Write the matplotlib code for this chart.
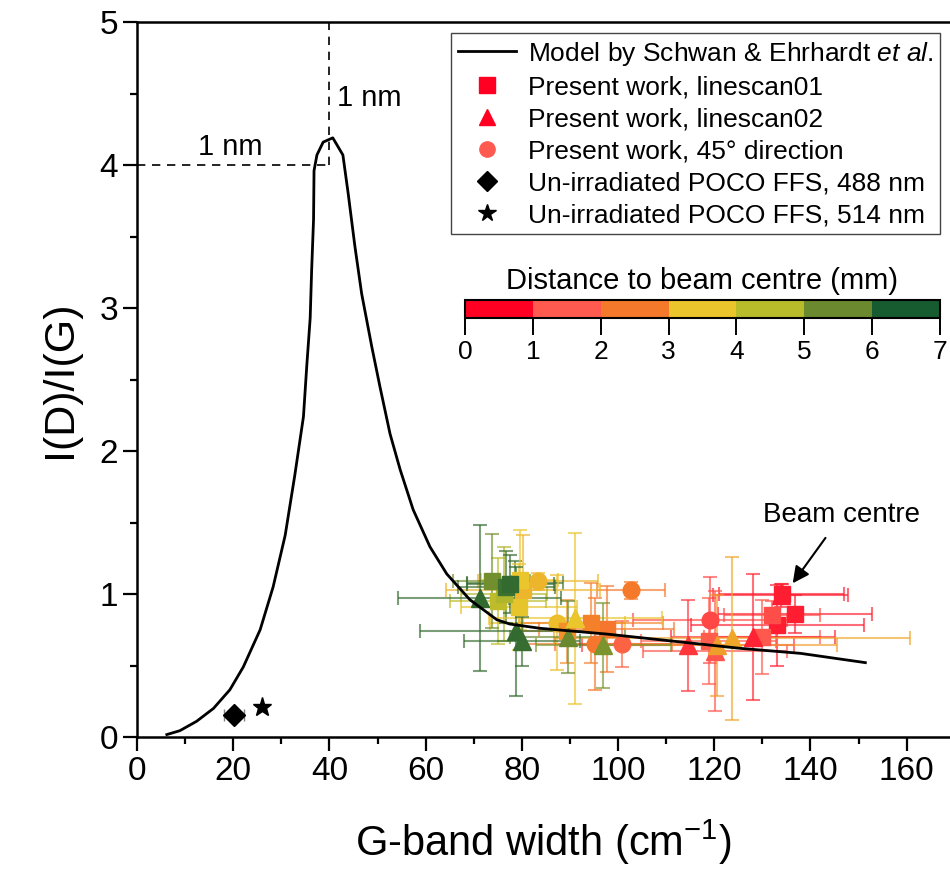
import matplotlib
matplotlib.use("Agg")
import matplotlib.pyplot as plt
import matplotlib.colors as mcolors
import matplotlib.colorbar as mcolorbar
from matplotlib.lines import Line2D
import numpy as np

plt.rcParams['font.family'] = 'Liberation Sans'
plt.rcParams['mathtext.fontset'] = 'custom'
plt.rcParams['mathtext.rm'] = 'Liberation Sans'
plt.rcParams['mathtext.it'] = 'Liberation Sans:italic'

# model curve (Schwan & Ehrhardt)
model_x = [6.2, 8.9, 12.4, 15.9, 19.3, 22.1, 25.6, 28.3, 30.8, 32.8, 34.6, 35.3, 36.0, 36.3,
           36.7, 36.8, 37.4, 38.7, 40.7, 42.8, 43.9, 45.3, 46.7, 48.8, 50.5, 52.6, 54.7, 57.4,
           60.9, 64.4, 69.2, 74.8, 77.5, 83.8, 97.6, 111.5, 125.4, 137.9, 151.4]
model_y = [0.017, 0.044, 0.11, 0.20, 0.33, 0.49, 0.75, 1.05, 1.41, 1.83, 2.24, 2.60, 2.93, 3.26,
           3.62, 3.96, 4.07, 4.16, 4.19, 4.07, 3.80, 3.43, 3.10, 2.73, 2.45, 2.12, 1.87, 1.59,
           1.33, 1.14, 0.96, 0.82, 0.79, 0.76, 0.72, 0.67, 0.62, 0.585, 0.52]

# linescan01 (squares)
sq_x = [134.0, 136.8, 133.1, 132.0, 129.9, 118.8, 97.6, 94.4, 89.3, 80.3, 79.4, 79.6, 75.1, 76.3, 73.7, 76.8, 77.6]
sq_y = [1.00, 0.86, 0.78, 0.85, 0.70, 0.67, 0.755, 0.795, 0.74, 1.03, 0.91, 1.10, 0.95, 1.00, 1.09, 1.05, 1.07]
sq_dist = [0.3, 0.5, 0.4, 1.3, 1.5, 1.6, 2.4, 2.6, 2.8, 3.3, 3.6, 3.5, 4.4, 4.6, 5.4, 6.3, 6.5]
sq_xerr = [13, 16, 18, 10, 12, 14, 14, 15, 10, 16, 12, 8, 10, 9, 8, 10, 9]
sq_yerr = [0.07, 0.13, 0.28, 0.10, 0.26, 0.30, 0.30, 0.28, 0.22, 0.38, 0.30, 0.35, 0.30, 0.33, 0.33, 0.25, 0.20]

# linescan02 (triangles)
tr_x = [133.8, 128.1, 114.6, 120.2, 120.5, 123.6, 91.1, 89.5, 96.9, 71.2, 78.8, 80.0]
tr_y = [0.99, 0.70, 0.64, 0.60, 0.64, 0.69, 0.83, 0.70, 0.64, 0.97, 0.74, 0.67]
tr_dist = [0.3, 0.6, 0.9, 1.4, 3.0, 3.1, 3.5, 5.5, 5.3, 6.8, 6.6, 6.4]
tr_xerr = [14, 17, 22, 15, 25, 37, 18, 12, 14, 17, 20, 12]
tr_yerr = [0.08, 0.44, 0.32, 0.42, 0.35, 0.57, 0.60, 0.25, 0.30, 0.51, 0.45, 0.17]

# 45 degree direction (circles)
ci_x = [119.1, 100.8, 95.2, 102.7, 87.4, 83.4, 78.6]
ci_y = [0.82, 0.65, 0.65, 1.026, 0.80, 1.09, 1.08]
ci_dist = [1.2, 1.8, 2.4, 2.5, 3.4, 3.3, 6.3]
ci_xerr = [16, 14, 16, 7, 14, 12.5, 10]
ci_yerr = [0.30, 0.16, 0.32, 0.06, 0.33, 0.06, 0.15]

# un-irradiated reference
dia_x, dia_y, dia_xerr, dia_yerr = [20.2], [0.154], [2.1], [0.03]
star_x, star_y = [26.0], [0.21]

bin_colors = ['#FF0022', '#FF5A4F', '#F5792A', '#EBC52C', '#B8BB2A', '#6B8A2F', '#175B30']
bounds = [0, 1, 2, 3, 4, 5, 6, 7]

cmap_disc = mcolors.ListedColormap(bin_colors)
norm_disc = mcolors.BoundaryNorm(bounds, cmap_disc.N)
# smooth version for marker colours
centres = [0.5, 1.5, 2.5, 3.5, 4.5, 5.5, 6.5]
cmap_cont = mcolors.LinearSegmentedColormap.from_list(
    'dist', [(c / 7.0, col) for c, col in zip([0] + centres[1:-1] + [7], bin_colors)])


def dist_color(d):
    d = min(max(d, 0.5), 6.5)
    return cmap_cont(d / 7.0)


fig = plt.figure(figsize=(9.5, 8.73), dpi=100)
ax = fig.add_axes([137 / 950, 136 / 873, 813 / 950, 715 / 873])


def draw_series(xs, ys, xe, ye, ds, marker, ms):
    for x, y, a, b, d in zip(xs, ys, xe, ye, ds):
        c = dist_color(d)
        ax.errorbar(x, y, xerr=a, yerr=b, fmt='none', ecolor=c, alpha=0.65,
                    elinewidth=1.5, capsize=5, capthick=1.5, zorder=2)
    for x, y, d in zip(xs, ys, ds):
        ax.plot(x, y, marker=marker, color=dist_color(d), markersize=ms,
                linestyle='none', zorder=3)


ax.plot(model_x, model_y, color='black', lw=2.0, zorder=4)

draw_series(ci_x, ci_y, ci_xerr, ci_yerr, ci_dist, 'o', 12)
draw_series(sq_x, sq_y, sq_xerr, sq_yerr, sq_dist, 's', 11.5)
draw_series(tr_x, tr_y, tr_xerr, tr_yerr, tr_dist, '^', 13)

ax.errorbar(dia_x, dia_y, xerr=dia_xerr, yerr=dia_yerr, fmt='none', ecolor='gray',
            elinewidth=1.2, capsize=4, zorder=2)
ax.plot(dia_x, dia_y, 'D', color='black', markersize=11, zorder=3)
ax.plot(star_x, star_y, '*', color='black', markersize=14, zorder=3)

# 1 nm guide lines
ax.plot([0, 40], [4, 4], color='black', lw=1.2, ls=(0, (5, 4)), zorder=1)
ax.plot([40, 40], [4, 5], color='black', lw=1.2, ls=(0, (5, 4)), zorder=1)
ax.text(19.3, 4.03, '1 nm', fontsize=21, ha='center', va='bottom')
ax.text(41.5, 4.47, '1 nm', fontsize=21, ha='left', va='center')

ax.annotate('Beam centre', xy=(136.3, 1.075), xytext=(146.5, 1.55),
            fontsize=20, ha='center', va='center',
            arrowprops=dict(arrowstyle='-|>', color='black', lw=1.5,
                            mutation_scale=25, shrinkA=6, shrinkB=0))

ax.set_xlim(0, 169)
ax.set_ylim(0, 5)
ax.set_xticks(np.arange(0, 161, 20))
ax.set_xticks(np.arange(10, 170, 20), minor=True)
ax.set_yticks(np.arange(0, 5.1, 1))
ax.set_yticks(np.arange(0.5, 5, 1), minor=True)
ax.tick_params(which='major', direction='out', length=10, width=1.6, labelsize=24, top=False, right=False)
ax.tick_params(which='minor', direction='out', length=5, width=1.6, top=False, right=False)
ax.spines['right'].set_visible(False)
for s in ['left', 'bottom', 'top']:
    ax.spines[s].set_linewidth(1.8)

ax.set_xlabel('G-band width (cm$^{\\mathrm{-1}}$)', fontsize=30, labelpad=22)
ax.set_ylabel('I(D)/I(G)', fontsize=31, labelpad=14)

handles = [
    Line2D([], [], color='black', lw=2.0),
    Line2D([], [], marker='s', color='#FF0022', ls='none', markersize=11),
    Line2D([], [], marker='^', color='#FF0022', ls='none', markersize=12),
    Line2D([], [], marker='o', color='#FF5A4F', ls='none', markersize=11),
    Line2D([], [], marker='D', color='black', ls='none', markersize=10),
    Line2D([], [], marker='*', color='black', ls='none', markersize=13),
]
labels = [
    r'Model by Schwan & Ehrhardt $\it{et\ al.}$',
    'Present work, linescan01',
    'Present work, linescan02',
    'Present work, 45\u00b0 direction',
    'Un-irradiated POCO FFS, 488 nm',
    'Un-irradiated POCO FFS, 514 nm',
]
leg = ax.legend(handles, labels, loc='upper right', bbox_to_anchor=(940 / 950, (873 - 33) / 873),
                bbox_transform=fig.transFigure, fontsize=19, frameon=True, fancybox=False,
                edgecolor='#444444', framealpha=1, borderaxespad=0, handlelength=2.2,
                handletextpad=0.45, labelspacing=0.3, borderpad=0.25)
leg.get_frame().set_linewidth(1.0)

cax = fig.add_axes([465 / 950, (873 - 318) / 873, 475 / 950, 18 / 873])
cb = mcolorbar.ColorbarBase(cax, cmap=cmap_disc, norm=norm_disc, orientation='horizontal',
                            ticks=bounds)
cb.outline.set_linewidth(1.5)
cax.tick_params(direction='out', length=12, width=1.4, labelsize=19)
cax.set_title('Distance to beam centre (mm)', fontsize=21, pad=8)

fig.savefig('out.png', dpi=100)
